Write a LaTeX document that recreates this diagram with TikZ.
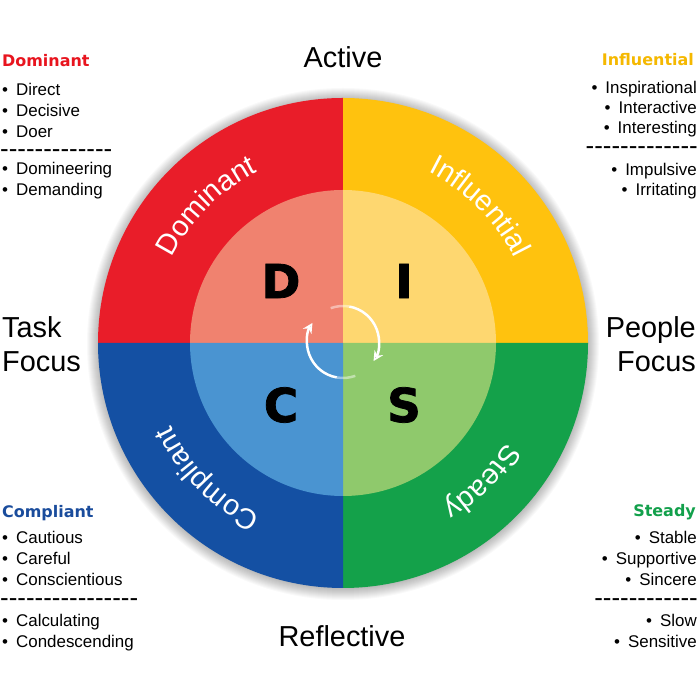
\documentclass[tikz,border=0pt]{standalone}
\usepackage{fontspec}
\setmainfont{Liberation Sans}
\newfontfamily\headfont{DejaVu Sans}
\newfontfamily\bigfont{DejaVu Sans Bold}[FakeBold=1.6]
\usetikzlibrary{decorations.text,arrows.meta}
\definecolor{dRed}{HTML}{E91D29}
\definecolor{dRedIn}{HTML}{F0826F}
\definecolor{iYel}{HTML}{FFC20E}
\definecolor{iYelIn}{HTML}{FED770}
\definecolor{sGrn}{HTML}{14A14A}
\definecolor{sGrnIn}{HTML}{8FC96C}
\definecolor{cBlu}{HTML}{1450A3}
\definecolor{cBluIn}{HTML}{4A94D1}
\definecolor{hRed}{HTML}{E8141E}
\definecolor{hYel}{HTML}{F5B800}
\definecolor{hBlu}{HTML}{1A4C9C}
\definecolor{hGrn}{HTML}{12A04B}
\newcommand\hk{-\kern0pt}
\newcommand\bu{•\hskip 8bp}
\tikzset{
  item/.style={anchor=base west,inner sep=0pt,font=\fontsize{17}{20}\selectfont},
  ritem/.style={anchor=base east,inner sep=0pt,font=\fontsize{17}{20}\selectfont},
  head/.style={anchor=base west,inner sep=0pt,font=\headfont\bfseries\fontsize{16}{18}\selectfont},
  rhead/.style={anchor=base east,inner sep=0pt,font=\headfont\bfseries\fontsize{16}{18}\selectfont},
  dashrow/.style={inner sep=0pt,font=\fontsize{26}{26}\selectfont},
  axislbl/.style={inner sep=0pt,font=\fontsize{29}{34}\selectfont},
  bigletter/.style={inner sep=0pt,font=\bigfont\fontsize{47}{47}\selectfont},
  arctext/.style={decorate,decoration={text along path,text align=center,text color=white,
     text={|\fontsize{29}{29}\selectfont|#1}}},
  cycarrow/.style={draw=white,line width=2.5pt,-{Stealth[length=10pt,width=10pt]}},
}
\begin{document}
\begin{tikzpicture}[x=1bp,y=1bp]
\useasboundingbox (0,0) rectangle (700,700);
\fill[white] (0,0) rectangle (700,700);
% soft shadow round the disc
\foreach \k in {1,...,12}{\fill[black,opacity=0.022] (343,356) circle[radius=244+\k];}
% quadrants
\coordinate (ctr) at (343,357);
\fill[dRed] (ctr) -- ++(-245,0) arc[start angle=180,end angle=90,radius=245] -- cycle;
\fill[iYel] (ctr) -- ++(0,245) arc[start angle=90,end angle=0,radius=245] -- cycle;
\fill[sGrn] (ctr) -- ++(245,0) arc[start angle=0,end angle=-90,radius=245] -- cycle;
\fill[cBlu] (ctr) -- ++(0,-245) arc[start angle=-90,end angle=-180,radius=245] -- cycle;
\fill[dRedIn] (ctr) -- ++(-153,0) arc[start angle=180,end angle=90,radius=153] -- cycle;
\fill[iYelIn] (ctr) -- ++(0,153) arc[start angle=90,end angle=0,radius=153] -- cycle;
\fill[sGrnIn] (ctr) -- ++(153,0) arc[start angle=0,end angle=-90,radius=153] -- cycle;
\fill[cBluIn] (ctr) -- ++(0,-153) arc[start angle=-90,end angle=-180,radius=153] -- cycle;
% arc labels
\path[shift={(343,357)},arctext=Dominant] (178:191) arc[start angle=178,end angle=92,radius=191];
\path[shift={(343,357)},arctext=Influential] (88:191) arc[start angle=88,end angle=2,radius=191];
\path[shift={(343,357)},arctext=Steady] (-2:191) arc[start angle=-2,end angle=-88,radius=191];
\path[shift={(343,357)},arctext=Compliant] (-92:191) arc[start angle=-92,end angle=-178,radius=191];
% big letters
\node[bigletter] (D) at (281,419) {D};
\node[bigletter] (I) at (404,419) {I};
\node[bigletter] (C) at (281,295) {C};
\node[bigletter] (S) at (404,295) {S};
% centre cycle arrows
\begin{scope}[shift={(343,358)}]
  \coordinate (a1s) at (-70:36);
  \coordinate (a2s) at (110:36);
  \draw[draw=white,line width=2.5pt,opacity=0.45] (a1s) arc[start angle=-70,end angle=-100,radius=36];
  \draw[cycarrow] (-100:36) arc[start angle=-100,end angle=-212,radius=36];
  \draw[draw=white,line width=2.5pt,opacity=0.45] (a2s) arc[start angle=110,end angle=80,radius=36];
  \draw[cycarrow] (80:36) arc[start angle=80,end angle=-32,radius=36];
\end{scope}
% axis labels
\node[axislbl,anchor=base] (active) at (343,632) {Active};
\node[axislbl,anchor=base] (reflective) at (342,53) {Reflective};
\node[axislbl,anchor=base west] (task) at (2,362) {Task};
\node[axislbl,anchor=base west] (tfocus) at (2,328) {Focus};
\node[axislbl,anchor=base east] (people) at (696,362) {People};
\node[axislbl,anchor=base east] (pfocus) at (696,328) {Focus};
% Dominant list
\node[head,text=hRed] (hD) at (2,633) {Dominant};
\node[item] (d1) at (2,604) {\bu Direct};
\node[item] (d2) at (2,583) {\bu Decisive};
\node[item] (d3) at (2,562) {\bu Doer};
\node[dashrow,anchor=base west] (dd) at (0,542) {\hk\hk\hk\hk\hk\hk\hk\hk\hk\hk\hk\hk\hk};
\node[item] (d4) at (2,525) {\bu Domineering};
\node[item] (d5) at (2,504) {\bu Demanding};
% Influential list
\node[rhead,text=hYel] (hI) at (694,634) {Influential};
\node[ritem] (i1) at (697,606) {\bu Inspirational};
\node[ritem] (i2) at (697,586) {\bu Interactive};
\node[ritem] (i3) at (697,566) {\bu Interesting};
\node[dashrow,anchor=base east] (id) at (698,545) {\hk\hk\hk\hk\hk\hk\hk\hk\hk\hk\hk\hk\hk};
\node[ritem] (i4) at (697,524) {\bu Impulsive};
\node[ritem] (i5) at (697,504) {\bu Irritating};
% Compliant list
\node[head,text=hBlu] (hC) at (2,182) {Compliant};
\node[item] (c1) at (2,156) {\bu Cautious};
\node[item] (c2) at (2,135) {\bu Careful};
\node[item] (c3) at (2,114) {\bu Conscientious};
\node[dashrow,anchor=base west] (cd) at (0,93) {\hk\hk\hk\hk\hk\hk\hk\hk\hk\hk\hk\hk\hk\hk\hk\hk};
\node[item] (c4) at (2,73) {\bu Calculating};
\node[item] (c5) at (2,52) {\bu Condescending};
% Steady list
\node[rhead,text=hGrn] (hS) at (696,183) {Steady};
\node[ritem] (s1) at (697,156) {\bu Stable};
\node[ritem] (s2) at (697,135) {\bu Supportive};
\node[ritem] (s3) at (697,114) {\bu Sincere};
\node[dashrow,anchor=base east] (sd) at (698,93) {\hk\hk\hk\hk\hk\hk\hk\hk\hk\hk\hk\hk};
\node[ritem] (s4) at (697,73) {\bu Slow};
\node[ritem] (s5) at (697,52) {\bu Sensitive};
\end{tikzpicture}
\end{document}
